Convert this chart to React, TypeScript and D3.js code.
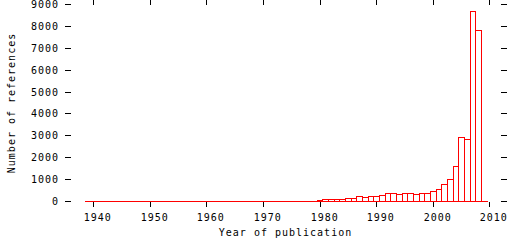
import React from "react";
import * as d3 from "d3";

const years: number[] = d3.range(1939, 2010);
const nonZeroYears: number[] = [
  1980, 1981, 1982, 1983, 1984, 1985, 1986, 1987, 1988, 1989,
  1990, 1991, 1992, 1993, 1994, 1995, 1996, 1997, 1998, 1999,
  2000, 2001, 2002, 2003, 2004, 2005, 2006, 2007, 2008,
];
const nonZeroCounts: number[] = [
  40, 90, 90, 90, 90, 140, 140, 230, 180, 230,
  230, 280, 350, 360, 320, 360, 360, 320, 360, 360,
  450, 550, 780, 1000, 1600, 2920, 2840, 8700, 7790,
];
const xTicks: number[] = [1940, 1950, 1960, 1970, 1980, 1990, 2000, 2010];
const yTicks: number[] = [0, 1000, 2000, 3000, 4000, 5000, 6000, 7000, 8000, 9000];
const xTitle = "Year of publication";
const yTitle = "Number of references";

const W = 512;
const H = 240;
const FONT = "'DejaVu Sans Mono', monospace";

export default function App() {
  const x = d3.scaleLinear().domain([1936, 2012]).range([70.8, 501.3]);
  const y = d3.scaleLinear().domain([0, 9000]).range([201.5, 4.5]);
  const px = (v: number) => Math.floor(v) + 0.5;

  const countOf = (yr: number) => {
    const i = nonZeroYears.indexOf(yr);
    return i >= 0 ? nonZeroCounts[i] : 0;
  };

  const bars = years.map((yr) => {
    const x0 = px(x(yr - 0.5));
    const x1 = px(x(yr + 0.5));
    const y0 = px(y(0));
    const y1 = px(y(countOf(yr)));
    return `M${x0},${y0}V${y1}H${x1}V${y0}Z`;
  });

  const textStyle: React.CSSProperties = {
    fontFamily: FONT,
    fontSize: "10px",
    letterSpacing: "1px",
  };

  return (
    <svg
      width={W}
      height={H}
      style={{ position: "absolute", left: 0, top: 0, background: "#fff" }}
    >
      <rect x={0} y={0} width={W} height={H} fill="#fff" />
      <g shapeRendering="crispEdges">
        {yTicks.map((t) => (
          <g key={"y" + t}>
            <line x1={65} x2={71} y1={px(y(t))} y2={px(y(t))} stroke="#000" />
            <line x1={501} x2={507} y1={px(y(t))} y2={px(y(t))} stroke="#000" />
          </g>
        ))}
        {xTicks.map((t) => (
          <g key={"x" + t}>
            <line x1={px(x(t))} x2={px(x(t))} y1={202} y2={207} stroke="#000" />
            <line x1={px(x(t))} x2={px(x(t))} y1={0} y2={5} stroke="#000" />
          </g>
        ))}
        {bars.map((d, i) => (
          <path key={"b" + i} d={d} fill="none" stroke="#ff0000" strokeWidth={1} />
        ))}
      </g>
      {yTicks.map((t) => (
        <text
          key={"yl" + t}
          x={59}
          y={px(y(t))}
          dy="0.35em"
          textAnchor="end"
          style={textStyle}
          fill="#000"
        >
          {t}
        </text>
      ))}
      {xTicks.map((t) => (
        <text
          key={"xl" + t}
          x={px(x(t)) + 4.2}
          y={221}
          textAnchor="middle"
          style={textStyle}
          fill="#000"
        >
          {t}
        </text>
      ))}
      <text x={285.5} y={236} textAnchor="middle" style={textStyle} fill="#000">
        {xTitle}
      </text>
      <text
        transform="translate(14.5,103) rotate(-90)"
        textAnchor="middle"
        style={textStyle}
        fill="#000"
      >
        {yTitle}
      </text>
    </svg>
  );
}
